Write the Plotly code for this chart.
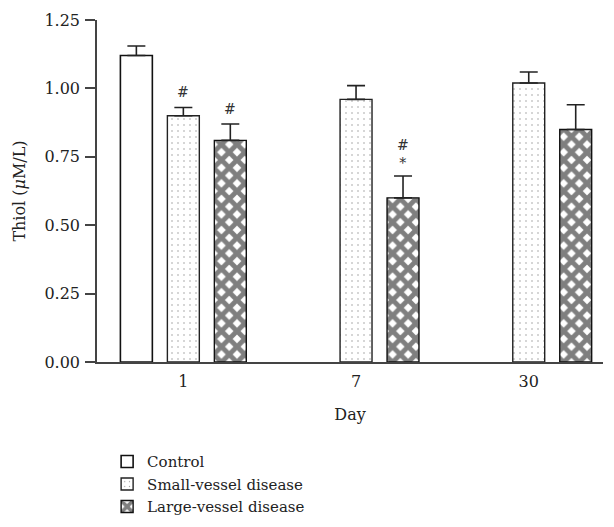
import plotly.graph_objects as go

days = ["1", "7", "30"]
control = [1.12, None, None]
control_err = [0.035, 0, 0]
small = [0.90, 0.96, 1.02]
small_err = [0.03, 0.05, 0.04]
large = [0.81, 0.60, 0.85]
large_err = [0.06, 0.08, 0.09]

# significance marks above bars
marks_small = ["#", "", ""]
marks_large = ["#", "#<br>*", ""]

FONT = "DejaVu Serif"
TXT = "#222"

def err(a):
    return dict(type="data", symmetric=False, array=a, arrayminus=[0] * len(a),
                color="#222", thickness=1.6, width=9)

fig = go.Figure()
fig.add_trace(go.Bar(
    name="Control", x=days, y=control,
    marker=dict(color="white", line=dict(color="#111", width=1.6)),
    error_y=err(control_err),
))
fig.add_trace(go.Bar(
    name="Small-vessel disease", x=days, y=small,
    marker=dict(color="white", line=dict(color="#222", width=1.4),
                pattern=dict(shape=".", fgcolor="#444", bgcolor="white", size=6, solidity=0.06)),
    error_y=err(small_err),
))
fig.add_trace(go.Bar(
    name="Large-vessel disease", x=days, y=large,
    marker=dict(color="#111", line=dict(color="#111", width=1.4),
                pattern=dict(shape="x", fgcolor="#000", bgcolor="white", size=11, solidity=0.7)),
    error_y=err(large_err),
))

annotations = []
slot_px = 47
for i, d in enumerate(days):
    if marks_small[i]:
        annotations.append(dict(x=i, y=small[i] + small_err[i], text=marks_small[i], xref="x", yref="y",
                                showarrow=False, xshift=0, yshift=6, yanchor="bottom",
                                font=dict(family=FONT, size=14, color="#333")))
    if marks_large[i]:
        annotations.append(dict(x=i, y=large[i] + large_err[i], text=marks_large[i], xref="x", yref="y",
                                showarrow=False, xshift=slot_px, yshift=5 if "<br>" not in marks_large[i] else 3,
                                yanchor="bottom",
                                font=dict(family=FONT, size=14, color="#333")))

fig.update_layout(
    width=614, height=527,
    margin=dict(l=97, r=11, t=17, b=165),
    paper_bgcolor="white", plot_bgcolor="white",
    barmode="group", bargap=0.184, bargroupgap=0.32,
    font=dict(family=FONT, size=16, color=TXT),
    showlegend=True,
    legend=dict(x=0.02, y=0.155, xref="paper", yref="container",
                xanchor="left", yanchor="top", orientation="v",
                font=dict(family=FONT, size=15, color=TXT), bgcolor="rgba(0,0,0,0)",
                traceorder="normal", tracegroupgap=0),
    annotations=annotations,
)
fig.update_xaxes(
    type="category", range=[-0.5, 2.43], showline=True, linecolor="#444", linewidth=1.5,
    ticks="", showgrid=False, zeroline=False, ticklabelstandoff=4,
    title=dict(text="Day", font=dict(family=FONT, size=16, color=TXT), standoff=19),
    tickfont=dict(family=FONT, size=16, color=TXT),
)
fig.update_yaxes(
    range=[0, 1.25], tickvals=[0, 0.25, 0.5, 0.75, 1.0, 1.25], tickformat=".2f",
    showline=True, linecolor="#444", linewidth=1.5, ticks="outside", ticklen=10,
    tickcolor="#444", tickwidth=1.5, showgrid=False, zeroline=False, ticklabelstandoff=2,
    title=dict(text="Thiol (<i>μ</i>M/L)", font=dict(family=FONT, size=16, color=TXT), standoff=15),
    tickfont=dict(family=FONT, size=16, color=TXT),
)

fig.write_html("out.html")
